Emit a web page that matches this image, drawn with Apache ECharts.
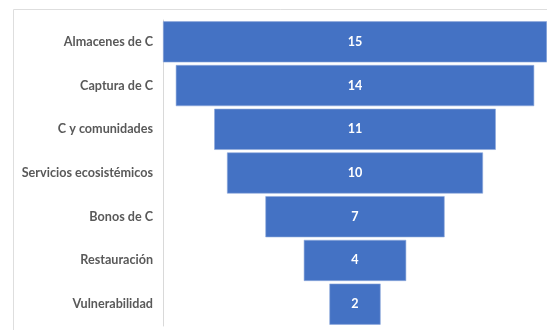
<!DOCTYPE html>
<html>
<head>
<meta charset="utf-8">
<script src="https://cdn.jsdelivr.net/npm/echarts@6/dist/echarts.min.js"></script>
<style>
  html, body { margin: 0; padding: 0; background: #ffffff; }
  #chart { width: 547px; height: 330px; }
</style>
</head>
<body>
<div id="chart"></div>
<script>
// Funnel categories, top to bottom
const categories = [
  'Almacenes de C',
  'Captura de C',
  'C y comunidades',
  'Servicios ecosistémicos',
  'Bonos de C',
  'Restauración',
  'Vulnerabilidad'
];
const counts = [15, 14, 11, 10, 7, 4, 2];

// Widest stage sets the axis span; each bar is centred with a transparent spacer
const maxCount = Math.max(...counts);
const spacer = counts.map(v => (maxCount - v) / 2);

const chart = echarts.init(document.getElementById('chart'), null, { renderer: 'canvas' });

chart.setOption({
  animation: false,
  backgroundColor: '#ffffff',
  graphic: [{
    type: 'rect',
    shape: { x: 13.5, y: 9.5, width: 560, height: 340 },
    style: { fill: 'none', stroke: '#dedede', lineWidth: 1 },
    silent: true
  }],
  grid: { left: 163, right: 0, top: 20, bottom: 4, containLabel: false },
  xAxis: {
    type: 'value',
    min: 0,
    max: maxCount,
    show: false
  },
  yAxis: {
    type: 'category',
    data: categories,
    inverse: true,
    axisLine: { show: true, lineStyle: { color: '#d9d9d9', width: 1 } },
    axisTick: { show: false },
    axisLabel: {
      color: '#595959',
      fontFamily: 'Lato, "Open Sans", sans-serif',
      fontWeight: 'bold',
      fontSize: 12.6,
      margin: 10
    }
  },
  series: [
    {
      type: 'bar',
      stack: 'funnel',
      data: spacer,
      itemStyle: { color: 'transparent' },
      barCategoryGap: '6%',
      silent: true
    },
    {
      type: 'bar',
      stack: 'funnel',
      data: counts,
      barCategoryGap: '6%',
      itemStyle: { color: '#4472c4', borderColor: '#8faadc', borderWidth: 0.6 },
      label: {
        show: true,
        position: 'inside',
        color: '#ffffff',
        fontFamily: 'Lato, "Open Sans", sans-serif',
        fontWeight: 'bold',
        fontSize: 12.6
      }
    }
  ]
});
</script>
</body>
</html>
